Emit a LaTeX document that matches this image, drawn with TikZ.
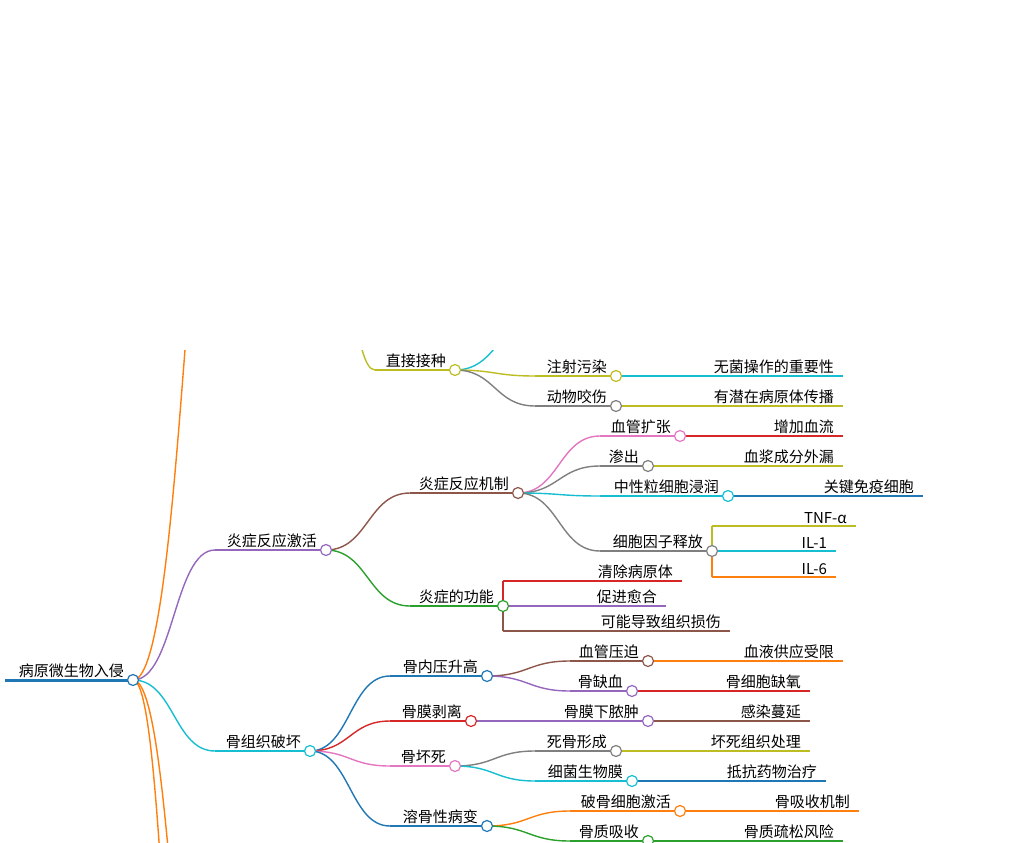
\documentclass[tikz,border=0pt]{standalone}
\usepackage{fontspec}
\setmainfont{Noto Sans CJK SC}
\usetikzlibrary{positioning,calc}
\definecolor{cblue}{HTML}{1F77B4}
\definecolor{corange}{HTML}{FF7F0E}
\definecolor{cgreen}{HTML}{2CA02C}
\definecolor{cred}{HTML}{D62728}
\definecolor{cpurple}{HTML}{9467BD}
\definecolor{cbrown}{HTML}{8C564B}
\definecolor{cpink}{HTML}{E377C2}
\definecolor{cgray}{HTML}{7F7F7F}
\definecolor{colive}{HTML}{BCBD22}
\definecolor{ccyan}{HTML}{17BECF}
\tikzset{
  line/.style={line width=1.4pt},
  lbl/.style={inner sep=1pt, font=\fontsize{15}{17}\selectfont},
  dot/.style={circle, fill=white, line width=1.2pt, minimum size=11pt, inner sep=0pt},
  link/.style={line width=1.4pt}
}
% name, x start, x end, y, colour, text
\newcommand\br[6]{%
  \coordinate (#1-l) at (#2,#4);
  \coordinate (#1) at (#3,#4);
  \draw[#5,line] (#1-l) -- (#1);
  \node[lbl, above left=1pt and 8pt of #1] (#1-t) {#6};}
\newcommand\knot[2]{\node[dot,draw=#2] at (#1) {};}
% colour, from, to
\newcommand\curve[3]{%
  \draw[#1,link] let \p1=(#2), \p2=(#3) in
    (\p1) .. controls ({(\x1+\x2)/2},\y1) and ({(\x1+\x2)/2},\y2) .. (\p2);}
\begin{document}
\begin{tikzpicture}[x=1pt,y=-1pt]
    \useasboundingbox (0,0) rectangle (1025,843);
    \clip (0,350) rectangle (1025,843);
    % off-screen ends
    \coordinate (up) at (240,-20);
    \coordinate (dn1) at (195,1150);
    \coordinate (dn2) at (215,1150);
    \coordinate (inf) at (330,230);
    \coordinate (inj0) at (540,320);
    \coordinate (rootc) at (133,680);
    \coordinate (injc) at (455,370);
    \coordinate (injl) at (375,370);
    % connectors
    \curve{corange}{rootc}{up}
    \curve{corange}{rootc}{dn1}
    \curve{corange}{rootc}{dn2}
    \curve{colive}{inf}{injl}
    \curve{ccyan}{injc}{inj0}
    % root
    \draw[cblue,line width=3pt] (5,680) -- (rootc);
    \node[lbl, above left=1pt and 8pt of rootc] (root) {病原微生物入侵};
    % level 1
    \br{infl}{215}{326}{550}{cpurple}{炎症反应激活}
    \br{bone}{215}{310}{751}{ccyan}{骨组织破坏}
    \br{inj}{375}{455}{370}{colive}{直接接种}
    % level 2
    \br{mech}{410}{518}{493}{cbrown}{炎症反应机制}
    \br{func}{410}{503}{606}{cgreen}{炎症的功能}
    \br{press}{390}{487}{676}{cblue}{骨内压升高}
    \br{peri}{390}{471}{721}{cred}{骨膜剥离}
    \br{necr}{390}{455}{766}{cpink}{骨坏死}
    \br{lysis}{390}{487}{826}{cblue}{溶骨性病变}
    % level 3
    \br{shot}{535}{616}{376}{colive}{注射污染}
    \br{bite}{535}{616}{406}{cgray}{动物咬伤}
    \br{dil}{600}{680}{436}{cpink}{血管扩张}
    \br{exu}{600}{648}{466}{cgray}{渗出}
    \br{neut}{600}{728}{496}{ccyan}{中性粒细胞浸润}
    \br{cyto}{600}{712}{551}{cgray}{细胞因子释放}
    \br{clear}{503}{682}{581}{cred}{清除病原体}
    \br{heal}{503}{666}{606}{cpurple}{促进愈合}
    \br{dmg}{503}{730}{631}{cbrown}{可能导致组织损伤}
    \br{comp}{570}{648}{661}{cbrown}{血管压迫}
    \br{isch}{570}{632}{691}{cpurple}{骨缺血}
    \br{absc}{471}{648}{721}{cpurple}{骨膜下脓肿}
    \br{dead}{535}{616}{751}{cgray}{死骨形成}
    \br{film}{535}{632}{781}{ccyan}{细菌生物膜}
    \br{oclast}{570}{680}{811}{corange}{破骨细胞激活}
    \br{resorb}{570}{648}{841}{cgreen}{骨质吸收}
    % level 4
    \br{asep}{616}{843}{376}{ccyan}{无菌操作的重要性}
    \br{spread}{616}{843}{406}{colive}{有潜在病原体传播}
    \br{flow}{680}{843}{436}{cred}{增加血流}
    \br{leak}{648}{843}{466}{colive}{血浆成分外漏}
    \br{key}{728}{923}{496}{cblue}{关键免疫细胞}
    \br{tnf}{712}{856}{526}{colive}{TNF-α}
    \br{ilone}{712}{836}{551}{ccyan}{IL-1}
    \br{ilsix}{712}{836}{577}{corange}{IL-6}
    \br{supply}{648}{843}{661}{corange}{血液供应受限}
    \br{hypox}{632}{810}{691}{cred}{骨细胞缺氧}
    \br{infect}{648}{810}{721}{cbrown}{感染蔓延}
    \br{debr}{616}{810}{751}{colive}{坏死组织处理}
    \br{resist}{632}{826}{781}{cblue}{抵抗药物治疗}
    \br{mechb}{680}{859}{811}{corange}{骨吸收机制}
    \br{osteo}{648}{843}{841}{cgreen}{骨质疏松风险}
    % links
    \foreach \pa/\ch/\cl in {rootc/infl/cpurple, rootc/bone/ccyan, infl/mech/cbrown, infl/func/cgreen, bone/press/cblue, bone/peri/cred, bone/necr/cpink, bone/lysis/cblue, inj/shot/colive, inj/bite/cgray, mech/dil/cpink, mech/exu/cgray, mech/neut/ccyan, mech/cyto/cgray, func/clear/cred, func/heal/cpurple, func/dmg/cbrown, press/comp/cbrown, press/isch/cpurple, peri/absc/cpurple, necr/dead/cgray, necr/film/ccyan, lysis/oclast/corange, lysis/resorb/cgreen, cyto/tnf/colive, cyto/ilone/ccyan, cyto/ilsix/corange}
      {\curve{\cl}{\pa}{\ch-l}}
    % knots
    \knot{rootc}{cblue}
    \foreach \nm/\cl in {infl/cpurple, bone/ccyan, inj/colive, mech/cbrown, func/cgreen, press/cblue, peri/cred, necr/cpink, lysis/cblue, shot/colive, bite/cgray, dil/cpink, exu/cgray, neut/ccyan, cyto/cgray, comp/cbrown, isch/cpurple, absc/cpurple, dead/cgray, film/ccyan, oclast/corange, resorb/cgreen}
      {\knot{\nm}{\cl}}
\end{tikzpicture}
\end{document}
